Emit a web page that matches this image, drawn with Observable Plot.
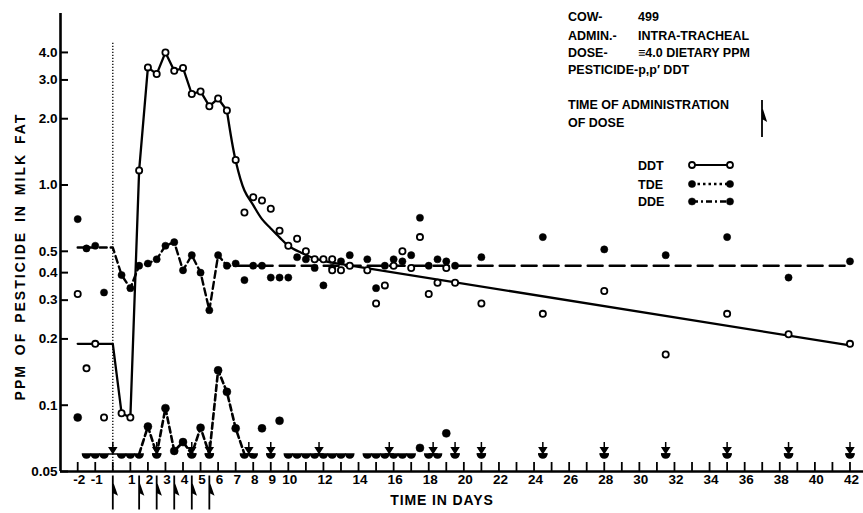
<!DOCTYPE html>
<html>
<head>
<meta charset="utf-8">
<script src="https://cdn.jsdelivr.net/npm/d3@7"></script>
<script src="https://cdn.jsdelivr.net/npm/@observablehq/plot@0.6"></script>
<style>
  html, body { margin: 0; padding: 0; background: #fff; }
  #chart svg { display: block; }
</style>
</head>
<body>
<div id="chart"></div>
<script>
// ---------------- DATA ----------------
// DDT (open circles, solid line)
const ddtDays   = [-2, -1.5, -1, -0.5, 0.5, 1, 1.5, 2, 2.5, 3, 3.5, 4, 4.5, 5, 5.5, 6, 6.5, 7, 7.5, 8, 8.5, 9, 9.5, 10,
                   10.5, 11, 11.5, 12, 12.5, 12.5, 13, 13.5, 14.5, 15, 15.5, 16, 16.5, 17, 17.5, 18, 18.5, 19, 19.5, 21,
                   24.5, 28, 31.5, 35, 38.5, 42];
const ddtValues = [0.32, 0.147, 0.19, 0.088, 0.092, 0.088, 1.165, 3.42, 3.19, 4.0, 3.30, 3.40, 2.59, 2.66, 2.28, 2.47, 2.18, 1.30, 0.75, 0.88, 0.85, 0.78, 0.62, 0.53,
                   0.57, 0.50, 0.46, 0.46, 0.46, 0.41, 0.41, 0.43, 0.41, 0.29, 0.35, 0.43, 0.50, 0.42, 0.58, 0.32, 0.36, 0.42, 0.36, 0.29,
                   0.26, 0.33, 0.17, 0.26, 0.21, 0.19];
// DDT connecting line (pre-dose mean, then the measured rise)
const ddtLineDays   = [-2, 0, 0.5, 1, 1.5, 2, 2.5, 3, 3.5, 4, 4.5, 5, 5.5, 6, 6.5];
const ddtLineValues = [0.19, 0.19, 0.092, 0.088, 1.165, 3.42, 3.19, 4.0, 3.30, 3.40, 2.59, 2.66, 2.28, 2.47, 2.18];
// DDT fitted decline curve and its straight tail
const ddtFitDays    = [6.5, 7, 7.5, 8, 8.5, 9, 9.5, 10, 10.7, 11.5, 12.4];
const ddtFitValues  = [2.18, 1.29, 0.945, 0.81, 0.70, 0.635, 0.578, 0.53, 0.494, 0.464, 0.445];
const ddtTailDays   = [12.4, 42];
const ddtTailValues = [0.445, 0.187];

// TDE (filled circles, short-dashed line)
const tdeDays   = [-2, 2, 3, 3.5, 4, 5, 6, 6.5, 7, 8.5, 9.5, 17.5, 19];
const tdeValues = [0.088, 0.080, 0.097, 0.062, 0.068, 0.079, 0.144, 0.115, 0.0785, 0.0785, 0.085, 0.064, 0.0745];
const tdeLineDays   = [1.5, 2, 2.5, 3, 3.5, 4, 4.5, 5, 5.5, 6, 6.5, 7, 7.5];
const tdeLineValues = [0.06, 0.080, 0.06, 0.097, 0.062, 0.068, 0.06, 0.079, 0.06, 0.144, 0.115, 0.0785, 0.06];

// DDE (filled circles, long-dashed line)
const ddeDays   = [-2, -1.5, -1, -0.5, 0.5, 1, 1.5, 2, 2.5, 3, 3.5, 4, 4.5, 5, 5.5, 6, 6.5, 7,
                   7.5, 8, 8.5, 9, 9.5, 10, 10.5, 11, 11.5, 12, 12.5, 13, 13.5,
                   14.5, 15, 15.5, 16, 16.5, 17, 17.5, 18, 18.5, 19, 19.5, 21, 24.5, 28, 31.5, 35, 38.5, 42];
const ddeValues = [0.70, 0.515, 0.53, 0.325, 0.39, 0.34, 0.43, 0.44, 0.46, 0.53, 0.55, 0.41, 0.48, 0.40, 0.27, 0.48, 0.43, 0.44,
                   0.37, 0.43, 0.43, 0.38, 0.38, 0.38, 0.47, 0.46, 0.42, 0.35, 0.42, 0.45, 0.48,
                   0.46, 0.34, 0.43, 0.46, 0.45, 0.48, 0.71, 0.43, 0.46, 0.45, 0.43, 0.47, 0.58, 0.51, 0.48, 0.58, 0.38, 0.45];
const ddeLineDays   = [-2, 0, 0.5, 1, 1.5, 2, 2.5, 3, 3.5, 4, 4.5, 5, 5.5, 6, 6.5, 7, 42];
const ddeLineValues = [0.52, 0.52, 0.39, 0.34, 0.43, 0.44, 0.46, 0.53, 0.55, 0.41, 0.48, 0.40, 0.27, 0.48, 0.43, 0.43, 0.43];

// Samples below detection (TDE) and "less than" arrows
const ndLevel  = 0.06;
const ndDays   = [-1.5, -1, -0.5, 0.5, 1, 1.5, 2.5, 4.5, 5.5, 7.5, 8, 9, 10, 10.5, 11, 11.5, 12, 12.5, 13, 13.5,
                  14.5, 15, 15.5, 16, 16.5, 17, 18, 18.5, 19.5, 21, 24.5, 28, 31.5, 35, 38.5, 42];
const arrowDays = [0, 2.5, 4.5, 5.5, 7.75, 9, 11.75, 15.75, 18.25, 19.5, 21, 24.5, 28, 31.5, 35, 38.5, 42];

// Times of administration of dose
const doseDays = [0, 1.5, 2.5, 3.5, 4.5, 5.5];
const doseLineTop = 4.4;

// Axes
const xTickDays  = d3.range(-2, 43);
const xLabelDays = [-2, -1, 1, 2, 3, 4, 5, 6, 7, 8, 9, 10, 12, 14, 16, 18, 20, 22, 24, 26, 28, 30, 32, 34, 36, 38, 40, 42];
const yTickValues = [0.05, 0.1, 0.2, 0.3, 0.4, 0.5, 1, 2, 3, 4];
const yTickLabels = ["0.05", "0.1", "0.2", "0.3", "0.4", "0.5", "1.0", "2.0", "3.0", "4.0"];
const xTitle = "TIME IN DAYS";
const yTitle = "PPM OF PESTICIDE IN MILK FAT";

// ---------------- BUILD ----------------
const rows = (days, vals) => days.map((d, i) => ({day: d, v: vals[i]}));
const ddt = rows(ddtDays, ddtValues), ddtLine = rows(ddtLineDays, ddtLineValues);
const ddtFit = rows(ddtFitDays, ddtFitValues), ddtTail = rows(ddtTailDays, ddtTailValues);
const tde = rows(tdeDays, tdeValues), tdeLine = rows(tdeLineDays, tdeLineValues);
const dde = rows(ddeDays, ddeValues), ddeLine = rows(ddeLineDays, ddeLineValues);

const FONT = "'Liberation Sans', Arial, Helvetica, sans-serif";
const W = 863, H = 513, ML = 60, MR = 0, MT = 13, MB = 42;

const halfDisk = {
  draw(ctx, size) {
    const r = Math.sqrt(size / Math.PI);
    ctx.moveTo(-r * 1.15, 0); ctx.lineTo(r * 1.15, 0);
    ctx.moveTo(r, 0); ctx.arc(0, 0, r, 0, Math.PI); ctx.closePath();
  }
};
const downArrow = {
  draw(ctx, size) {
    const r = Math.sqrt(size / Math.PI);
    ctx.moveTo(0, -3 * r); ctx.lineTo(0, -1.2 * r);
    ctx.moveTo(-0.85 * r, -1.6 * r); ctx.lineTo(0.85 * r, -1.6 * r); ctx.lineTo(0, -0.25 * r); ctx.closePath();
    ctx.moveTo(-1.15 * r, 0); ctx.lineTo(1.15 * r, 0);
  }
};
const doseMark = {
  draw(ctx, size) {
    const u = Math.sqrt(size / Math.PI);
    ctx.moveTo(0, 1 * u); ctx.lineTo(0, 9.5 * u);
    ctx.moveTo(0, 3 * u); ctx.lineTo(0.9 * u, 5.6 * u); ctx.lineTo(0, 5.1 * u); ctx.closePath();
  }
};

const plot = Plot.plot({
  width: W, height: H,
  marginLeft: ML, marginRight: MR, marginTop: MT, marginBottom: MB,
  x: {domain: [-2.98, 42.77], axis: null},
  y: {type: "log", domain: [0.05, 6.01], axis: null},
  style: {fontFamily: FONT, background: "white", color: "black", overflow: "visible"},
  marks: [
    // axis lines
    Plot.ruleX([-2.98], {stroke: "black", strokeWidth: 2.6}),
    Plot.ruleY([0.05], {stroke: "black", strokeWidth: 2.6}),
    // inward ticks
    Plot.tickX(xTickDays, {x: d => d, insetTop: (H - MT - MB) - 9, stroke: "black", strokeWidth: 1.8}),
    Plot.tickY(yTickValues, {y: d => d, insetRight: (W - ML - MR) - 8, stroke: "black", strokeWidth: 2}),
    // tick labels
    Plot.text(xLabelDays, {x: d => d, text: d => String(d), frameAnchor: "bottom", dy: 12, dx: 1.5,
      fontSize: 13.5, fontWeight: "bold", fill: "black"}),
    Plot.text(yTickValues, {y: d => d, text: (d, i) => yTickLabels[i], frameAnchor: "left", textAnchor: "end",
      dx: -3, fontSize: 13.5, fontWeight: "bold", fill: "black"}),
    // titles
    Plot.text([xTitle], {frameAnchor: "bottom", textAnchor: "middle", dx: -20, dy: 33, fontSize: 14, fontWeight: "bold", fill: "black"}),
    Plot.text([yTitle], {frameAnchor: "left", textAnchor: "middle", dx: -40, dy: 14, rotate: -90, fontSize: 14, fontWeight: "bold", fill: "black"}),
    // dotted line at time zero
    Plot.ruleX([0], {y1: doseLineTop, y2: 0.05, stroke: "black", strokeWidth: 1.3, strokeDasharray: "1.2,1.8"}),
    // lines
    Plot.line(ddeLine.filter(d => d.day <= 7), {x: "day", y: "v", stroke: "black", strokeWidth: 2.4, strokeDasharray: "7,4"}),
    Plot.line(ddeLine.filter(d => d.day >= 7), {x: "day", y: "v", stroke: "black", strokeWidth: 2.4, strokeDasharray: "15,7"}),
    Plot.line(tdeLine, {x: "day", y: "v", stroke: "black", strokeWidth: 2.6, strokeDasharray: "6,3.5"}),
    Plot.line(ddtLine, {x: "day", y: "v", stroke: "black", strokeWidth: 2.3}),
    Plot.line(ddtFit, {x: "day", y: "v", stroke: "black", strokeWidth: 2.3, curve: "catmull-rom"}),
    Plot.line(ddtTail, {x: "day", y: "v", stroke: "black", strokeWidth: 2.3}),
    // below-detection markers and arrows
    Plot.dot(ndDays, {x: d => d, y: () => ndLevel, symbol: halfDisk, r: 4, fill: "black", stroke: "black", strokeWidth: 1.5}),
    Plot.dot(arrowDays, {x: d => d, y: () => ndLevel, symbol: downArrow, r: 4, fill: "black", stroke: "black", strokeWidth: 1.5}),
    // points
    Plot.dot(dde, {x: "day", y: "v", r: 3.6, fill: "black", stroke: "black", strokeWidth: 0.5}),
    Plot.dot(tde, {x: "day", y: "v", r: 4, fill: "black", stroke: "black", strokeWidth: 0.5}),
    Plot.dot(ddt, {x: "day", y: "v", r: 3.1, fill: "white", stroke: "black", strokeWidth: 1.8}),
    // time of administration of dose
    Plot.dot(doseDays, {x: d => d, y: () => 0.05, symbol: doseMark, r: 4, fill: "black", stroke: "black", strokeWidth: 1.8})
  ]
});

document.getElementById("chart").appendChild(plot);

// ---------------- annotations & legend ----------------
const svg = d3.select(plot);
svg.selectAll("text").filter(function() { return this.textContent === yTitle; })
  .attr("letter-spacing", "2px").attr("word-spacing", "3px");
svg.selectAll("text").filter(function() { return this.textContent === xTitle; })
  .attr("letter-spacing", "0.9px");

const g = svg.append("g").attr("font-family", FONT).attr("font-weight", "bold")
  .attr("font-size", 12.5).attr("fill", "black").attr("text-anchor", "start");
const notes = [
  ["COW-", 568, 16], ["499", 638, 16],
  ["ADMIN.-", 568, 35], ["INTRA-TRACHEAL", 638, 35],
  ["DOSE-", 568, 52.5], ["\u22614.0 DIETARY PPM", 638, 52.5],
  ["PESTICIDE-p,p\u2032 DDT", 568, 69.5],
  ["TIME OF ADMINISTRATION", 568, 104], ["OF DOSE", 568, 122.5],
  ["DDT", 638, 165], ["TDE", 638, 184], ["DDE", 638, 201.5]
];
notes.forEach(([t, x, y]) => g.append("text").attr("x", x).attr("y", y).attr("dy", "0.36em")
  .attr("text-anchor", "start").text(t));

// dose symbol in the key
g.append("path").attr("d", "M762,100 L762,137 M762,109 L765.6,120 L762,118 Z")
  .attr("stroke", "black").attr("stroke-width", 1.8).attr("fill", "black");

const key = [
  {y: 165, dash: null, open: true},
  {y: 184, dash: "2.5,3", open: false},
  {y: 201.5, dash: "6,3,2,3", open: false}
];
key.forEach(k => {
  const l = g.append("line").attr("x1", 692).attr("x2", 730).attr("y1", k.y).attr("y2", k.y)
    .attr("stroke", "black").attr("stroke-width", k.open ? 1.8 : 2.4);
  if (k.dash) l.attr("stroke-dasharray", k.dash);
  [692, 730].forEach(cx => g.append("circle").attr("cx", cx).attr("cy", k.y).attr("r", k.open ? 3 : 3.6)
    .attr("fill", k.open ? "white" : "black").attr("stroke", "black").attr("stroke-width", k.open ? 1.8 : 0.5));
});
</script>
</body>
</html>
